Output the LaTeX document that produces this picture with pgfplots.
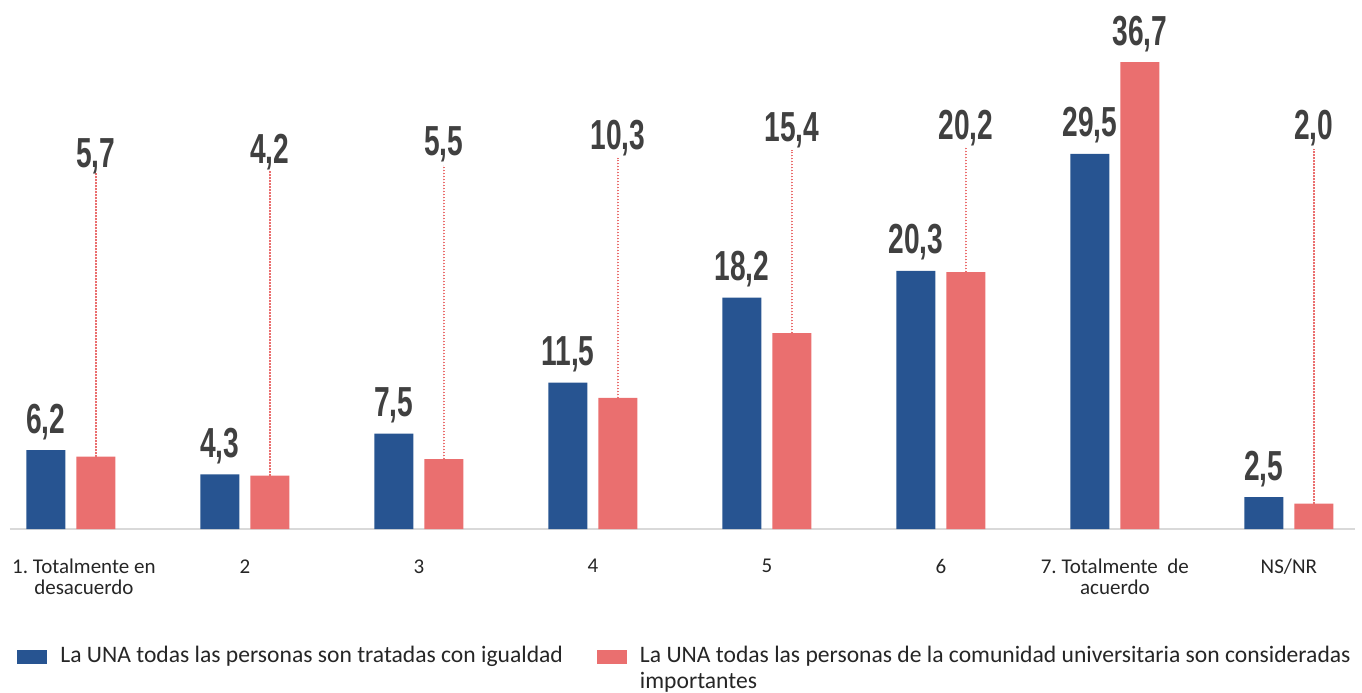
\documentclass[border=0pt]{standalone}
\usepackage{pgfplots}
\pgfplotsset{compat=1.18}
\usepackage{pgfplotstable}
\usepackage{fontspec}
\setmainfont{Carlito}
\newfontfamily\valfont[FakeStretch=0.67,UprightFont={* Bold}]{Liberation Sans}

\definecolor{unablue}{RGB}{39,84,145}
\definecolor{unared}{RGB}{234,111,111}
\definecolor{labgray}{RGB}{64,64,64}
\definecolor{axgray}{RGB}{217,217,217}

% blue series: La UNA todas las personas son tratadas con igualdad
\pgfplotstableread{
x y lab
0 6.2 6,2
1 4.3 4,3
2 7.5 7,5
3 11.5 11,5
4 18.2 18,2
5 20.3 20,3
6 29.5 29,5
7 2.5 2,5
}\bluedata

% red series; ly = where the label sits, ltop = top of the dotted leader
\pgfplotstableread{
x y lab ly ltop
0 5.7 5,7 27.1 28.1
1 4.2 4,2 27.4 28.2
2 5.5 5,5 28.0 28.6
3 10.3 10,3 28.5 29.2
4 15.4 15,4 29.1 29.8
5 20.2 20,2 29.3 30.0
6 36.7 36,7 36.7 36.7
7 2.0 2,0 29.3 29.9
}\reddata

\begin{document}
\begin{tikzpicture}
\begin{axis}[
    scale only axis,
    width=672.5pt, height=254.4pt,
    xmin=-0.35, xmax=7.38,
    ymin=0, ymax=40,
    clip=false,
    axis x line=bottom,
    axis y line=none,
    axis line style={-, draw=axgray, line width=1pt},
    major tick length=0pt,
    xtick={0,...,7},
    xticklabels={{\hspace*{13pt}1.\ Totalmente en\\\hspace*{13pt}desacuerdo},2,3,4,5,6,{7.\ Totalmente\ \ de\\acuerdo},NS/NR},
    xticklabel style={font=\fontsize{10.5}{10.5}\selectfont, align=center,
        text=black!85, inner sep=0pt, anchor=north, yshift=-15pt},
    nodes near coords style={anchor=base, inner sep=0pt, yshift=8.5pt,
        font=\valfont\fontsize{21}{21}\selectfont, text=labgray},
    legend columns=2,
    legend style={at={(0,0)}, anchor=north west, xshift=3.5pt, yshift=-58.5pt,
        draw=none, fill=none, inner sep=0pt,
        font=\fontsize{11.8}{13}\selectfont, text=black!85,
        nodes={inner sep=0pt, anchor=base west},
        /tikz/every odd column/.append style={column sep=6.5pt},
        /tikz/every even column/.append style={column sep=17pt}},
]
\coordinate (bl) at (rel axis cs:0,0);

\addplot[ybar, bar width=19.5pt, bar shift=-12.5pt, fill=unablue, draw=none,
    nodes near coords, point meta=explicit symbolic,
    every node near coord/.append style={xshift=-12.5pt},
    legend image code/.code={\fill[unablue] (0pt,-0.5pt) rectangle (15pt,6.5pt);}]
    table[x=x, y=y, meta=lab] {\bluedata};
\addlegendentry{La UNA todas las personas son tratadas con igualdad}

\addplot[ybar, bar width=19.5pt, bar shift=12.5pt, fill=unared, draw=none,
    legend image code/.code={\fill[unared] (0pt,-0.5pt) rectangle (15pt,6.5pt);},
    error bars/.cd, y dir=plus, y explicit, error mark=none,
    error bar style={xshift=12.5pt, draw=unared, line width=0.8pt, dash pattern=on 0.6pt off 0.9pt}]
    table[x=x, y=y, y error expr=\thisrow{ltop}-\thisrow{y}] {\reddata};
\addlegendentry{\parbox[t]{358pt}{\raggedright La UNA todas las personas de la comunidad universitaria son consideradas importantes}}

% red labels, raised to their leader tops
\addplot[ybar, bar width=19.5pt, bar shift=12.5pt, draw=none, fill=none, forget plot,
    nodes near coords, point meta=explicit symbolic,
    every node near coord/.append style={xshift=12.5pt}]
    table[x=x, y=ly, meta=lab] {\reddata};
\end{axis}
\pgfresetboundingbox
\path ([shift={(-5pt,-81.5pt)}]bl) rectangle ([shift={(676pt,264.5pt)}]bl);
\end{tikzpicture}
\end{document}
